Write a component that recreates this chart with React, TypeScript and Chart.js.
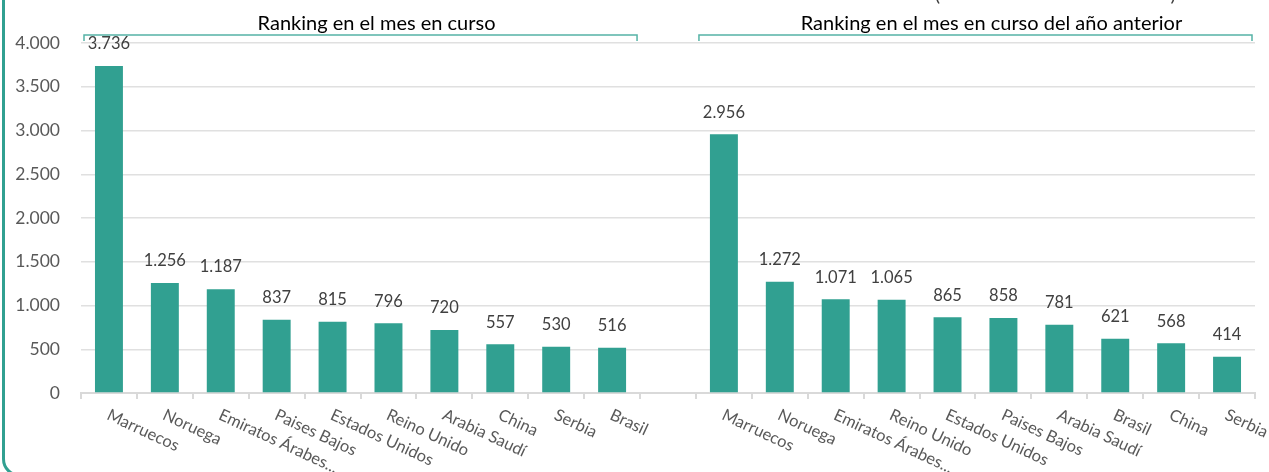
import React, { useEffect, useRef } from 'react';
import { Chart, registerables } from 'chart.js';

Chart.register(...registerables);

const categories = [
  'Marruecos', 'Noruega', 'Emiratos Árabes...', 'Paises Bajos', 'Estados Unidos', 'Reino Unido', 'Arabia Saudí', 'China', 'Serbia', 'Brasil',
  '',
  'Marruecos', 'Noruega', 'Emiratos Árabes...', 'Reino Unido', 'Estados Unidos', 'Paises Bajos', 'Arabia Saudí', 'Brasil', 'China', 'Serbia',
];
const values: (number | null)[] = [
  3736, 1256, 1187, 837, 815, 796, 720, 557, 530, 516,
  null,
  2956, 1272, 1071, 1065, 865, 858, 781, 621, 568, 414,
];
const yMin = 0;
const yMax = 4000;
const yStep = 500;
const groupTitles = ['Ranking en el mes en curso', 'Ranking en el mes en curso del año anterior'];
const groupStart = [0, 11];
const groupEnd = [9, 20];

const TEAL = '#31A091';
const FONT = 'Lato, "Open Sans", sans-serif';

function fmt(v: number): string {
  return String(v).replace(/\B(?=(\d{3})+(?!\d))/g, '.');
}

const overlay = {
  id: 'overlay',
  afterDatasetsDraw(chart: any) {
    const { ctx, scales } = chart;
    const x = scales.x;
    const y = scales.y;
    const meta = chart.getDatasetMeta(0);
    ctx.save();
    // value labels
    ctx.font = `16.5px ${FONT}`;
    ctx.fillStyle = '#404040';
    ctx.textAlign = 'center';
    ctx.textBaseline = 'middle';
    meta.data.forEach((bar: any, i: number) => {
      const v = values[i];
      if (v == null) return;
      ctx.fillText(fmt(v), bar.x, bar.y - 22);
    });
    // rotated category labels
    ctx.font = `16.5px ${FONT}`;
    ctx.fillStyle = '#595959';
    ctx.textAlign = 'left';
    ctx.textBaseline = 'middle';
    categories.forEach((c, i) => {
      if (!c) return;
      const px = x.getPixelForValue(i);
      ctx.save();
      ctx.translate(px - 1, y.bottom + 21);
      ctx.rotate((25 * Math.PI) / 180);
      ctx.fillText(c, 0, 0);
      ctx.restore();
    });
    // group brackets
    const half = (x.getPixelForValue(1) - x.getPixelForValue(0)) / 2;
    ctx.strokeStyle = '#55B3A6';
    ctx.lineWidth = 1.5;
    groupTitles.forEach((t, g) => {
      const x0 = x.getPixelForValue(groupStart[g]) - half + 3;
      const x1 = x.getPixelForValue(groupEnd[g]) + half - 3;
      const yl = y.top - 8;
      ctx.beginPath();
      ctx.moveTo(x0, yl + 6);
      ctx.lineTo(x0, yl);
      ctx.lineTo(x1, yl);
      ctx.lineTo(x1, yl + 6);
      ctx.stroke();
      ctx.font = `20px ${FONT}`;
      ctx.fillStyle = '#000000';
      ctx.textAlign = 'center';
      ctx.textBaseline = 'alphabetic';
      ctx.fillText(t, (x0 + x1) / 2 + 16, yl - 5);
    });
    // clipped parentheses of the title above
    ctx.font = `20px ${FONT}`;
    ctx.fillStyle = '#404040';
    ctx.textAlign = 'center';
    ctx.textBaseline = 'alphabetic';
    ctx.fillText('(', x.getPixelForValue(15) - 10, 1);
    ctx.fillText(')', x.getPixelForValue(19) + 2, 1);
    ctx.restore();
  },
};

export default function App() {
  const ref = useRef<HTMLCanvasElement | null>(null);
  useEffect(() => {
    document.body.style.margin = '0';
    if (!ref.current) return;
    const chart = new Chart(ref.current, {
      type: 'bar',
      data: {
        labels: categories,
        datasets: [
          {
            data: values,
            backgroundColor: TEAL,
            categoryPercentage: 1,
            barPercentage: 0.5,
          },
        ],
      },
      options: {
        animation: false,
        responsive: false,
        maintainAspectRatio: false,
        layout: { padding: { top: 43, right: 14, left: 0, bottom: 0 } },
        plugins: { legend: { display: false }, tooltip: { enabled: false }, title: { display: false } },
        scales: {
          x: {
            offset: true,
            ticks: { display: false },
            grid: { offset: true, drawOnChartArea: false, drawTicks: true, tickLength: 6, color: '#d9d9d9', lineWidth: 2 },
            border: { display: true, color: '#d9d9d9', width: 2 },
            afterFit: (s: any) => { s.height = 79; },
          },
          y: {
            min: yMin,
            max: yMax,
            ticks: { stepSize: yStep, padding: 21, color: '#595959', font: { size: 17.5, family: FONT }, callback: (v: any) => fmt(Number(v)) },
            grid: { drawTicks: false, color: '#e0e0e0', lineWidth: 1.5 },
            border: { display: false },
            afterFit: (s: any) => { s.width = 81; },
          },
        },
      },
      plugins: [overlay],
    });
    return () => chart.destroy();
  }, []);
  return (
    <div style={{ position: 'relative', width: 1269, height: 472, overflow: 'hidden', background: '#fff' }}>
      <canvas ref={ref} width={1269} height={472} style={{ display: 'block' }} />
      <div style={{ position: 'absolute', left: 2, top: -40, width: 1400, height: 517, border: `3px solid ${TEAL}`, borderRadius: 18, boxSizing: 'border-box', pointerEvents: 'none' }} />
    </div>
  );
}
